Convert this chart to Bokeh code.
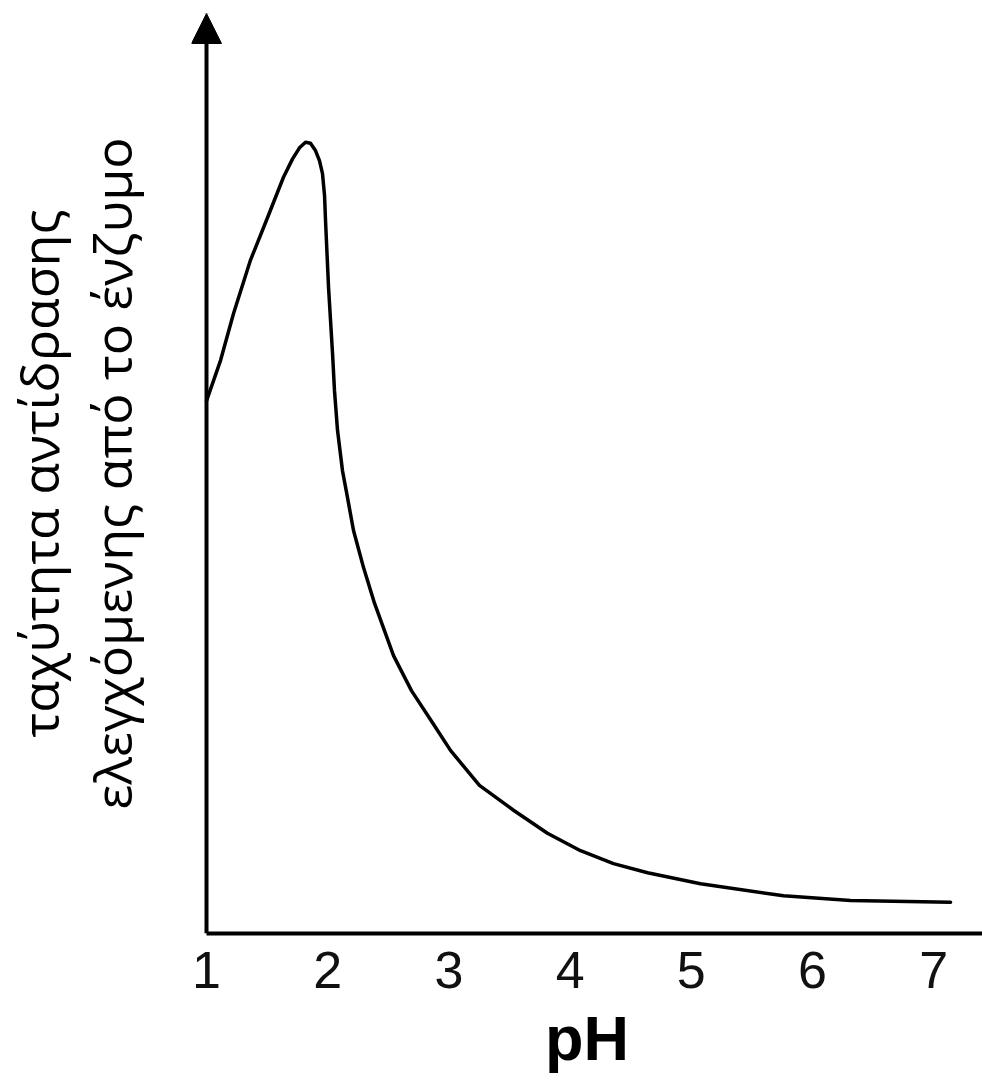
from bokeh.plotting import figure
from bokeh.models import Range1d, FixedTicker, Arrow, NormalHead
from bokeh.embed import file_html
from bokeh.resources import INLINE

# Data (pH vs. relative reaction rate)
ph = [1.000, 1.058, 1.116, 1.223, 1.363, 1.503, 1.635, 1.710, 1.767, 1.817,
      1.858, 1.899, 1.932, 1.957, 1.974, 1.982, 2.007, 2.040, 2.056, 2.081,
      2.122, 2.163, 2.213, 2.295, 2.386, 2.543, 2.691, 2.865, 3.013, 3.252,
      3.533, 3.813, 4.086, 4.358, 4.639, 5.076, 5.761, 6.314, 7.139]
rate = [57.9, 60.1, 62.3, 67.4, 73.2, 77.8, 82.2, 84.2, 85.4, 86.0,
        85.9, 85.1, 84.0, 82.6, 80.2, 77.5, 70.2, 63.0, 59.0, 54.7,
        50.3, 47.4, 43.8, 39.8, 35.9, 30.2, 26.4, 22.9, 19.9, 16.1,
        13.4, 10.9, 9.0, 7.6, 6.6, 5.4, 4.1, 3.6, 3.4]
x_ticks = [1, 2, 3, 4, 5, 6, 7]
x_label = "pH"
y_label_lines = ["ταχύτητα αντίδρασης", "ελεγχόμενης από το ένζυμο"]

X0 = 0.8762   # frame starts a little left of pH 1 so the arrow head is not clipped
X1 = 7.4026
p = figure(width=982, height=1082, output_backend="svg", toolbar_location=None,
           x_range=Range1d(X0, X1), y_range=Range1d(0, 100),
           min_border_left=191, min_border_right=0, min_border_top=13,
           min_border_bottom=149)
p.outline_line_color = None
p.xgrid.visible = False
p.ygrid.visible = False
p.background_fill_color = "white"
p.border_fill_color = "white"

xa = p.xaxis[0]
xa.ticker = FixedTicker(ticks=x_ticks)
xa.bounds = (1, X1)
xa.minor_tick_out = 0
xa.minor_tick_in = 0
xa.major_tick_out = 0
xa.major_tick_in = 0
xa.axis_line_width = 4
xa.axis_line_color = "black"
xa.major_label_text_font = "Liberation Sans"
xa.major_label_text_font_size = "52px"
xa.major_label_text_color = "#111111"
xa.major_label_standoff = 18
xa.axis_label = x_label
xa.axis_label_text_font = "Liberation Sans"
xa.axis_label_text_font_style = "bold"
xa.axis_label_text_font_size = "63px"
xa.axis_label_text_color = "black"
xa.axis_label_standoff = 12

ya = p.yaxis[0]
ya.ticker = FixedTicker(ticks=[])
ya.minor_tick_out = 0
ya.minor_tick_in = 0
ya.major_tick_out = 0
ya.major_tick_in = 0
ya.axis_line_color = None
ya.axis_label = "\n".join(y_label_lines)
ya.axis_label_text_font = "Open Sans"
ya.axis_label_text_font_style = "normal"
ya.axis_label_text_font_size = "52px"
ya.axis_label_text_color = "black"
ya.axis_label_text_line_height = 1.02
ya.axis_label_standoff = 45

# y axis drawn as an arrow at pH 1
p.add_layout(Arrow(end=NormalHead(size=30, fill_color="black", line_color="black"),
                   x_start=1, y_start=0, x_end=1, y_end=100,
                   line_width=4, line_color="black"))

p.line(ph, rate, line_width=3.5, line_color="black", line_join="round", line_cap="round")

open("out.html", "w").write(file_html(p, INLINE))
